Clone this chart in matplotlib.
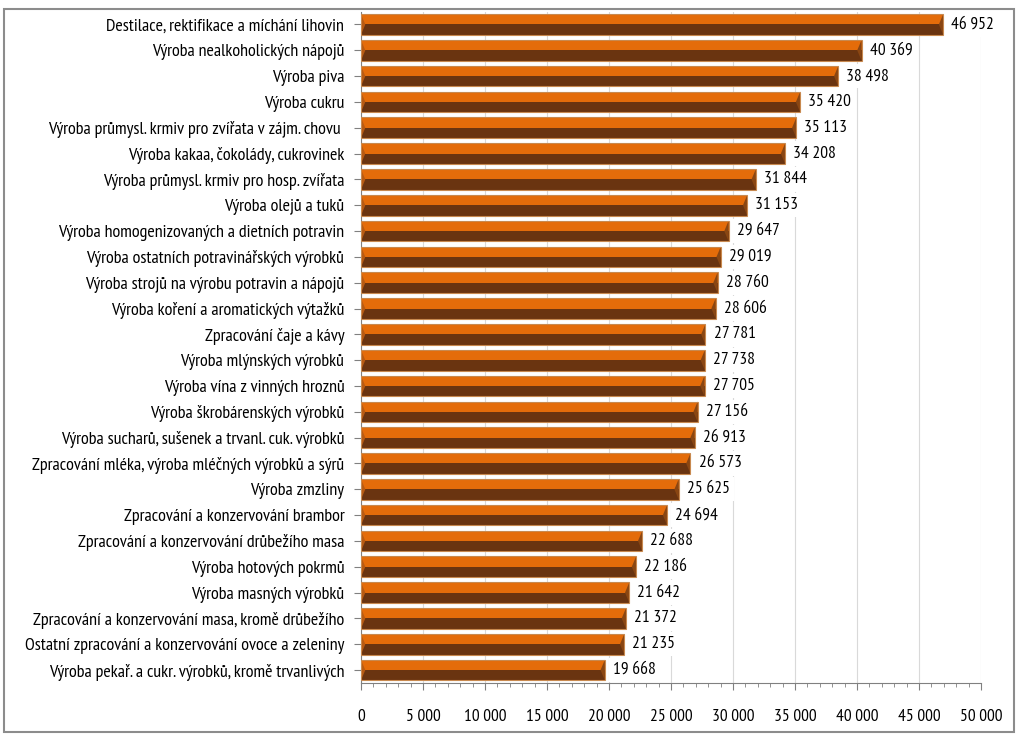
import matplotlib
matplotlib.use("Agg")
import matplotlib.pyplot as plt
from matplotlib.patches import Rectangle, Polygon
from matplotlib.ticker import MultipleLocator, FuncFormatter

#### data
categories = [
    "Destilace, rektifikace a míchání lihovin",
    "Výroba nealkoholických nápojů",
    "Výroba piva",
    "Výroba cukru",
    "Výroba průmysl. krmiv pro zvířata v zájm. chovu ",
    "Výroba kakaa, čokolády, cukrovinek",
    "Výroba průmysl. krmiv pro hosp. zvířata",
    "Výroba olejů a tuků",
    "Výroba homogenizovaných a dietních potravin",
    "Výroba ostatních potravinářských výrobků",
    "Výroba strojů na výrobu potravin a nápojů",
    "Výroba koření a aromatických výtažků",
    "Zpracování čaje a kávy",
    "Výroba mlýnských výrobků",
    "Výroba vína z vinných hroznů",
    "Výroba škrobárenských výrobků",
    "Výroba sucharů, sušenek a trvanl. cuk. výrobků",
    "Zpracování mléka, výroba mléčných výrobků a sýrů",
    "Výroba zmzliny",
    "Zpracování a konzervování brambor",
    "Zpracování a konzervování drůbežího masa",
    "Výroba hotových pokrmů",
    "Výroba masných výrobků",
    "Zpracování a konzervování masa, kromě drůbežího",
    "Ostatní zpracování a konzervování ovoce a zeleniny",
    "Výroba pekař. a cukr. výrobků, kromě trvanlivých",
]
values = [46952, 40369, 38498, 35420, 35113, 34208, 31844, 31153, 29647, 29019,
          28760, 28606, 27781, 27738, 27705, 27156, 26913, 26573, 25625, 24694,
          22688, 22186, 21642, 21372, 21235, 19668]

xmax = 50000
xstep = 5000

####
plt.rcParams['font.family'] = ['PT Sans Narrow', 'DejaVu Sans']

def fmt(v, pos=None):
    return f"{int(v):,}".replace(",", " ")

fig = plt.figure(figsize=(10.24, 7.37), dpi=100)
ax = fig.add_axes([0.3525, 0.0733, 0.6055, 0.911])

orange = "#E46C0A"
dark = "#6A3410"
edge = "#C8894F"
h = 0.80
n = len(values)
ys = list(range(n))[::-1]

for y, v in zip(ys, values):
    ax.barh(y - h / 4, v, height=h / 2, color=dark, linewidth=0, zorder=3)
    ax.barh(y + h / 4, v, height=h / 2, color=orange, linewidth=0, zorder=3)
    bev = 350
    # left bevel
    ax.add_patch(Polygon([(0, y - h / 2), (bev, y), (0, y + h / 2)],
                         closed=True, color="#B85A12", lw=0, zorder=4))
    # right bevel
    ax.add_patch(Polygon([(v, y - h / 2), (v - bev, y), (v, y + h / 2)],
                         closed=True, color="#8A4612", lw=0, zorder=4))
    ax.add_patch(Rectangle((0, y - h / 2), v, h, fill=False, ec=edge, lw=0.8, zorder=5))
    ax.text(v + 650, y, fmt(v), va="center", ha="left", fontsize=12.5,
            zorder=6, bbox=dict(fc="white", ec="none", pad=3))

ax.set_ylim(-0.5, n - 0.5)
ax.set_xlim(0, xmax)
ax.set_yticks(ys)
ax.set_yticklabels(categories, fontsize=13)
ax.xaxis.set_major_locator(MultipleLocator(xstep))
ax.xaxis.set_minor_locator(MultipleLocator(1000))
ax.xaxis.set_major_formatter(FuncFormatter(fmt))
ax.tick_params(axis="x", labelsize=12.5, length=5, color="#808080", pad=14)
ax.tick_params(axis="x", which="minor", length=3, color="#808080")
ax.tick_params(axis="y", length=5, color="#808080", pad=7)
ax.grid(axis="x", color="#D9D9D9", lw=0.8, zorder=0)
for s in ["top", "right"]:
    ax.spines[s].set_visible(False)
for s in ["left", "bottom"]:
    ax.spines[s].set_color("#808080")

fig.patches.append(Rectangle((0.0039, 0.0068), 0.986, 0.981, transform=fig.transFigure,
                             fill=False, ec="#8C8C8C", lw=1.5))

fig.savefig("out.png", dpi=100)
